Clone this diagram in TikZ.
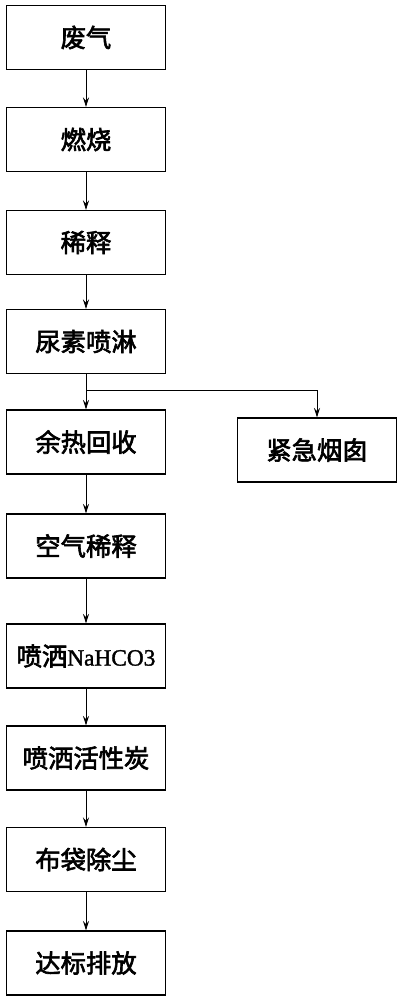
\documentclass[tikz,border=0pt]{standalone}
\usepackage{fontspec}
\newfontfamily\cjk{Noto Sans CJK SC}[FakeBold=2.5]
\newfontfamily\lat{Liberation Serif}[FakeBold=1.5]
\usetikzlibrary{arrows.meta}
\begin{document}
\begin{tikzpicture}[x=0.75pt,y=-0.75pt,
  box/.style={draw, line width=1pt, minimum width=119.5pt, minimum height=48pt, inner sep=0pt, font=\cjk\fontsize{19}{22}\selectfont},
  arr/.style={-{Stealth[length=7pt,width=4.5pt]}, line width=0.6pt}]
\useasboundingbox (0,0) rectangle (400,1000);
\node[box] (a) at (86,37.5) {废气};
\node[box] (b) at (86,139.5) {燃烧};
\node[box] (c) at (86,242.5) {稀释};
\node[box] (d) at (86,341.5) {尿素喷淋};
\node[box] (e) at (86,442) {余热回收};
\node[box] (f) at (86,546) {空气稀释};
\node[box] (g) at (86,656) {喷洒{\lat\fontsize{17.5}{20}\selectfont NaHCO3}};
\node[box] (h) at (86,758) {喷洒活性炭};
\node[box] (i) at (86,859.5) {布袋除尘};
\node[box] (j) at (86,963) {达标排放};
\node[box] (k) at (317,450) {紧急烟囱};
\draw[arr] (a) -- (b);
\draw[arr] (b) -- (c);
\draw[arr] (c) -- (d);
\draw[arr] (d) -- (e);
\coordinate (br) at (86,390);
\draw[arr] (br) -| (k.north);
\draw[arr] (e) -- (f);
\draw[arr] (f) -- (g);
\draw[arr] (g) -- (h);
\draw[arr] (h) -- (i);
\draw[arr] (i) -- (j);
\end{tikzpicture}
\end{document}
